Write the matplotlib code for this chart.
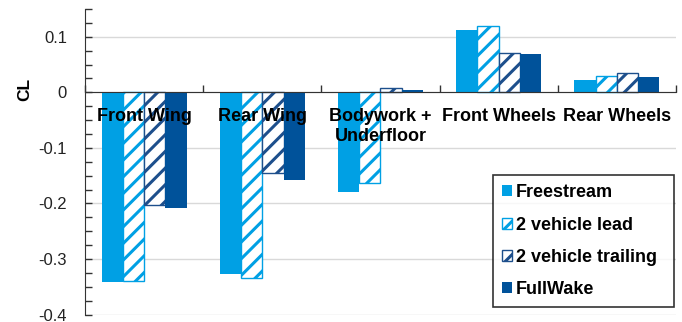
import matplotlib
matplotlib.use("Agg")
import matplotlib.pyplot as plt
import numpy as np
from matplotlib.ticker import MultipleLocator, FixedLocator

plt.rcParams['font.family'] = ['Liberation Sans', 'DejaVu Sans']
plt.rcParams['hatch.linewidth'] = 2.2

components = ["Front Wing", "Rear Wing", "Bodywork +\nUnderfloor", "Front Wheels", "Rear Wheels"]
series = ["Freestream", "2 vehicle lead", "2 vehicle trailing", "FullWake"]

freestream = [-0.342, -0.327, -0.179, 0.112, 0.023]
lead = [-0.340, -0.335, -0.164, 0.120, 0.029]
trailing = [-0.202, -0.146, 0.007, 0.070, 0.035]
fullwake = [-0.209, -0.157, 0.004, 0.069, 0.027]

light = "#00a0e4"
dark = "#00529a"
dark_hatch = "#1d4f8c"

fig = plt.figure(figsize=(6.82, 3.22), dpi=100)
ax = fig.add_axes([0.1246, 0.023, 0.8666, 0.949])

x = np.arange(len(components))
w = 0.18

ax.bar(x - 1.5 * w, freestream, w, color=light, label=series[0], zorder=3)
ax.bar(x - 0.5 * w, lead, w, color="white", edgecolor=light, hatch="//",
       linewidth=1.0, label=series[1], zorder=3)
ax.bar(x + 0.5 * w, trailing, w, color="white", edgecolor=dark_hatch, hatch="//",
       linewidth=1.0, label=series[2], zorder=3)
ax.bar(x + 1.5 * w, fullwake, w, color=dark, label=series[3], zorder=3)

ax.set_xlim(-0.5, len(components) - 0.5)
ax.set_ylim(-0.4, 0.15)

# y axis: gridlines every 0.1, inward ticks every 0.025
ax.yaxis.set_major_locator(FixedLocator([-0.4, -0.3, -0.2, -0.1, 0, 0.1]))
ax.yaxis.set_minor_locator(MultipleLocator(0.025))
ax.set_yticklabels(["-0.4", "-0.3", "-0.2", "-0.1", "0", "0.1"])
ax.tick_params(axis='y', which='both', direction='in', length=5, width=1,
               color="#333333", labelsize=12, pad=13, labelcolor="#222222")
ax.grid(axis='y', color="#d9d9d9", linewidth=1, zorder=0)

# category axis sits on the zero line, labels drawn over the bars
ax.spines['bottom'].set_position(('data', 0))
ax.spines['bottom'].set_color("#333333")
ax.spines['bottom'].set_zorder(4)
ax.spines['left'].set_color("#333333")
ax.spines['top'].set_visible(False)
ax.spines['right'].set_visible(False)
ax.xaxis.set_zorder(5)

ax.set_xticks(x)
ax.set_xticklabels(components, fontsize=13, fontweight='bold', linespacing=1.25)
ax.xaxis.set_minor_locator(FixedLocator(np.arange(len(components) + 1) - 0.5))
ax.tick_params(axis='x', which='major', length=0, pad=11)
ax.tick_params(axis='x', which='minor', direction='in', length=5, width=1, color="#333333")

fig.text(25 / 682, 1 - 89 / 322, "CL", rotation=90, fontsize=12.5, fontweight='bold',
         ha='center', va='center')

leg = ax.legend(loc='lower left', bbox_to_anchor=(492.7 / 682, 1 - 307.3 / 322, (674 - 492.7) / 682, 150 / 322),
                bbox_transform=fig.transFigure, mode='expand', fontsize=13, frameon=True,
                fancybox=False, edgecolor="black", handlelength=0.55, handleheight=0.55,
                handletextpad=0.25, labelspacing=0.85, borderpad=0.5, borderaxespad=0)
leg.get_frame().set_linewidth(1.2)
leg.set_zorder(6)
for t in leg.get_texts():
    t.set_fontweight('bold')

fig.savefig("out.png", dpi=100)
